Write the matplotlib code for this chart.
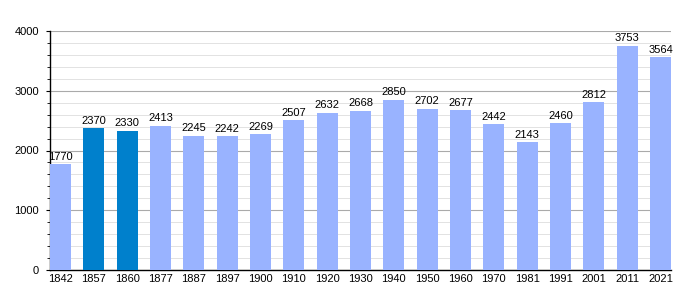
import matplotlib.pyplot as plt
from matplotlib.ticker import MultipleLocator
import numpy as np

years = ["1842", "1857", "1860", "1877", "1887", "1897", "1900", "1910", "1920", "1930",
         "1940", "1950", "1960", "1970", "1981", "1991", "2001", "2011", "2021"]
population = [1770, 2370, 2330, 2413, 2245, 2242, 2269, 2507, 2632, 2668,
              2850, 2702, 2677, 2442, 2143, 2460, 2812, 3753, 3564]
highlight = ["1857", "1860"]

plt.rcParams['font.family'] = ['Liberation Sans', 'DejaVu Sans']

fig = plt.figure(figsize=(7, 3), dpi=100)
ax = fig.add_axes([50 / 700, 30 / 300, 621 / 700, 239 / 300])

w = 0.63
x = np.arange(len(years))
colors = ['#0080cc' if y in highlight else '#99b3ff' for y in years]
ax.bar(x, population, width=w, align='edge', color=colors, zorder=3)

for xi, v in zip(x, population):
    ax.text(xi + w / 2, v + 40, str(v), ha='center', va='bottom', fontsize=8, zorder=4)

ax.set_xlim(0, len(years) - 1 + w)
ax.set_ylim(0, 4000)
ax.set_xticks(x + w / 2)
ax.set_xticklabels(years, fontsize=8)
ax.yaxis.set_major_locator(MultipleLocator(1000))
ax.yaxis.set_minor_locator(MultipleLocator(200))
ax.tick_params(axis='y', labelsize=8, length=3, width=0.8, pad=5)
ax.tick_params(axis='y', which='minor', length=2, width=0.6)
ax.tick_params(axis='x', length=0, pad=3)

ax.grid(axis='y', which='major', color='#aaaaaa', linewidth=0.8, zorder=0)
ax.grid(axis='y', which='minor', color='#e2e2e2', linewidth=0.7, zorder=0)
ax.set_axisbelow(True)

for s in ['top', 'right']:
    ax.spines[s].set_visible(False)
ax.spines['left'].set_linewidth(1)
ax.spines['bottom'].set_linewidth(1)

fig.savefig('out.png', dpi=100)
